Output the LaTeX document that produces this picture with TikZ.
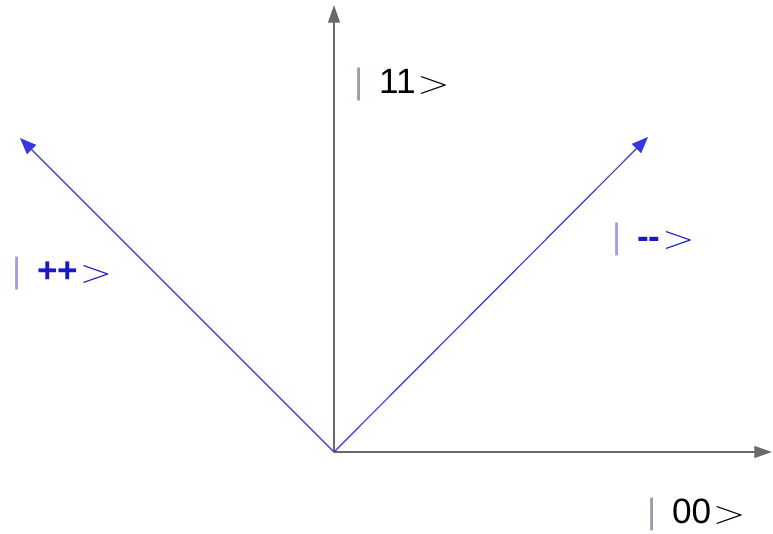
\documentclass[tikz,border=0pt]{standalone}
\usepackage{fontspec}
\setmainfont{Liberation Sans}
\usepackage{graphicx}
\definecolor{axgray}{RGB}{105,105,105}
\definecolor{vecblue}{RGB}{55,55,225}
\definecolor{ketblue}{RGB}{25,25,200}
\definecolor{barblue}{RGB}{160,160,225}
\definecolor{bargray}{RGB}{150,160,170}
\usetikzlibrary{arrows.meta,positioning}
% ket label: bar colour, text colour, content
\newcommand{\ketlabel}[3]{{\color{#1}|}\hspace{0.45em}{\color{#2}#3}\hspace{0.05em}{\color{#2}\scalebox{1.45}[1.1]{$>$}}}

\begin{document}
\begin{tikzpicture}[x=0.03cm, y=-0.03cm,
  axisarr/.style={-{Triangle[length=15pt, width=10pt]}, draw=axgray, fill=axgray, line width=1.5pt},
  vecarr/.style={-{Triangle[length=14pt, width=11pt]}, draw=vecblue, fill=vecblue, line width=1pt},
  ketlbl/.style={anchor=west, inner sep=0pt, font=\fontsize{30}{32}\selectfont}
]
\useasboundingbox (0,0) rectangle (773,534);

% Axes and vectors
\coordinate (origin) at (334,452);
\coordinate (up)     at (334,5);
\coordinate (right)  at (772,452);
\coordinate (mm)     at (648,137);
\coordinate (pp)     at (20,138);

\draw[axisarr] (origin) -- (up);
\draw[axisarr] (origin) -- (right);
\draw[vecarr]  (origin) -- (mm);
\draw[vecarr]  (origin) -- (pp);

% Labels
\node[ketlbl] (k11) at (354,84)  {\ketlabel{bargray}{black}{11}};
\node[ketlbl] (kmm) at (612,239) {\ketlabel{barblue}{ketblue}{\textbf{-{}-}}};
\node[ketlbl] (kpp) at (12,273)  {\ketlabel{barblue}{ketblue}{\textbf{++}}};
\node[ketlbl] (k00) at (647,514) {\ketlabel{bargray}{black}{00}};
\end{tikzpicture}
\end{document}
